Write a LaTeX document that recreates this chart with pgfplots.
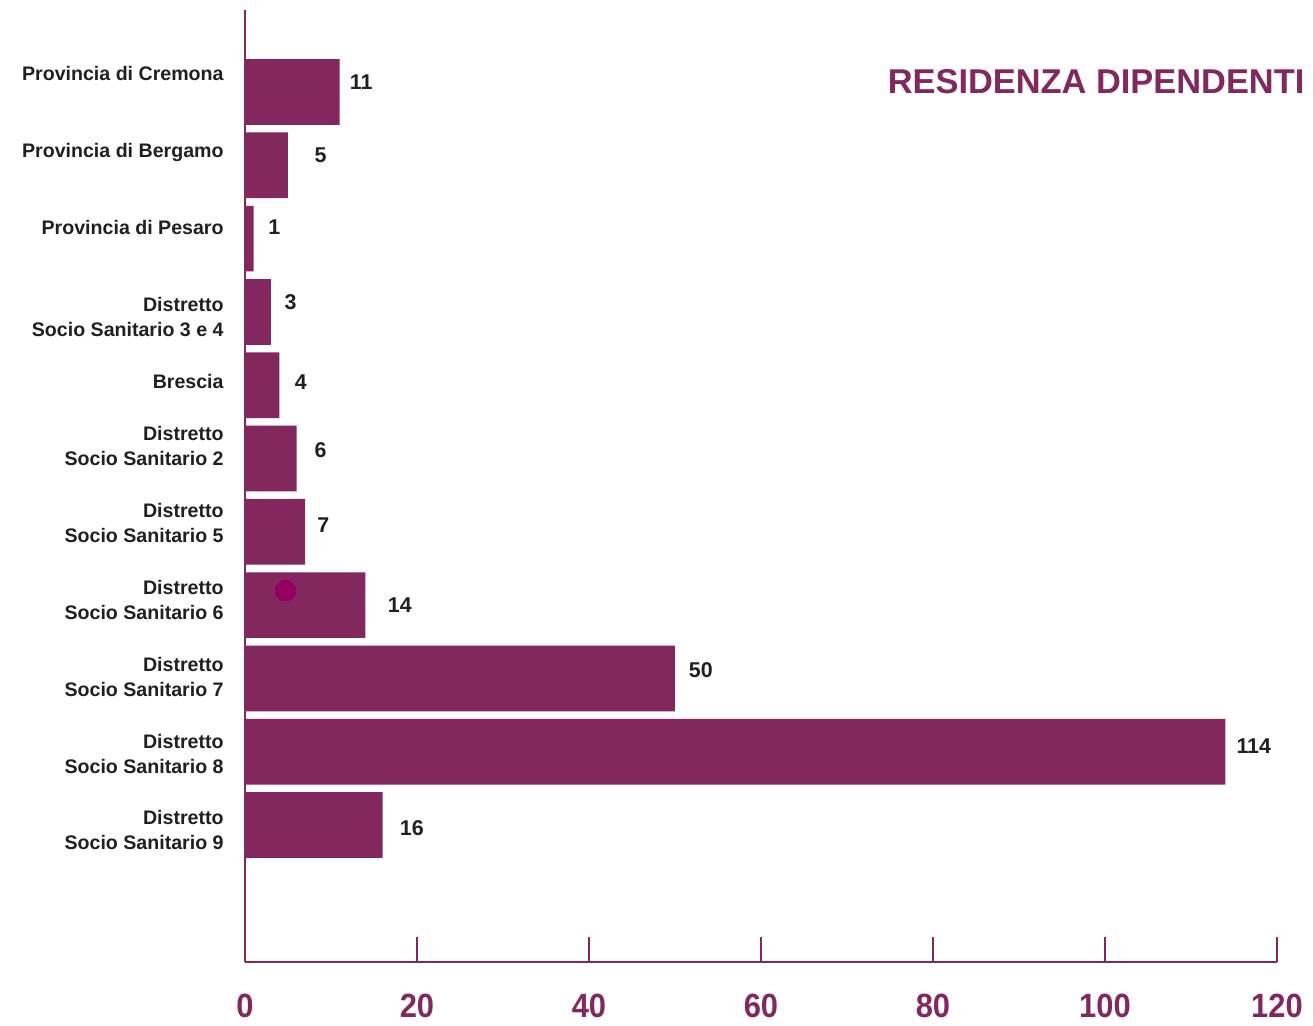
\documentclass[border=0pt]{standalone}
\usepackage{pgfplots}
\pgfplotsset{compat=1.18}
\usepackage{fontspec}
\setmainfont{Liberation Sans}
\newfontfamily\tickfont[FakeStretch=0.92]{Liberation Sans}

\definecolor{barc}{HTML}{83275F}
\definecolor{labc}{HTML}{231F20}
\definecolor{dotc}{HTML}{960062}

\begin{document}
\begin{tikzpicture}
  % page = 1313x1025 px at 0.5pt per px, axis box corner at px (245,962)
  \useasboundingbox (-122.5pt,-31.5pt) rectangle (534pt,481pt);
  \begin{axis}[
      at={(0,0)}, anchor=south west,
      scale only axis,
      width=516pt, height=476pt,
      xmin=0, xmax=120,
      ymin=-1.869, ymax=11.119,
      enlargelimits=false,
      clip=false,
      axis x line*=bottom,
      axis y line*=left,
      axis line style={-, draw=barc, line width=1pt},
      xtick={0,20,...,120},
      tick align=inside,
      major tick length=12.5pt,
      x tick style={draw=barc, line width=0.8pt},
      y tick style={draw=none},
      /pgf/number format/assume math mode=true,
      xticklabel style={font=\tickfont\bfseries\fontsize{16.8}{17}\selectfont,
        text=barc, anchor=north, inner sep=0pt, yshift=-16pt},
      ytick={10.246,9.181,8.145,6.924,6.044,5.177,4.127,3.076,2.020,0.975,-0.07},
      yticklabels={
        Provincia di Cremona,
        Provincia di Bergamo,
        Provincia di Pesaro,
        {Distretto\\Socio Sanitario 3 e 4},
        Brescia,
        {Distretto\\Socio Sanitario 2},
        {Distretto\\Socio Sanitario 5},
        {Distretto\\Socio Sanitario 6},
        {Distretto\\Socio Sanitario 7},
        {Distretto\\Socio Sanitario 8},
        {Distretto\\Socio Sanitario 9}},
      yticklabel style={font=\bfseries\fontsize{9.8}{12.5}\selectfont,
        text=labc, align=right, anchor=east, inner sep=0pt, xshift=-10.5pt},
    ]
    \addplot[xbar, bar width=0.896, fill=barc, draw=none] coordinates {
      (11,10) (5,9) (1,8) (3,7) (4,6) (6,5)
      (7,4) (14,3) (50,2) (114,1) (16,0) };

    % value labels
    \addplot[only marks, mark options={draw=none, fill=none},
      nodes near coords, point meta=explicit symbolic,
      every node near coord/.append style={anchor=center, inner sep=0pt,
        font=\bfseries\fontsize{10.7}{12}\selectfont, text=labc}]
      coordinates {
      (13.5,10.14) [11]
      (8.8,9.14) [5]
      (3.4,8.16) [1]
      (5.3,7.14) [3]
      (6.5,6.04) [4]
      (8.8,5.12) [6]
      (9.1,4.09) [7]
      (18.0,3.0) [14]
      (53.0,2.11) [50]
      (117.3,1.08) [114]
      (19.4,-0.04) [16] };

    \addplot[only marks, draw=dotc, fill=dotc, mark=*, mark size=5.25pt,
      mark options={fill=dotc, draw=dotc, line width=0pt}] coordinates {(4.71,3.20)};

    \node[anchor=east, inner sep=0pt, text=barc,
      font=\bfseries\fontsize{17.2}{18}\selectfont]
      at (rel axis cs:1.027,0.9247) {RESIDENZA DIPENDENTI};
  \end{axis}
\end{tikzpicture}
\end{document}
